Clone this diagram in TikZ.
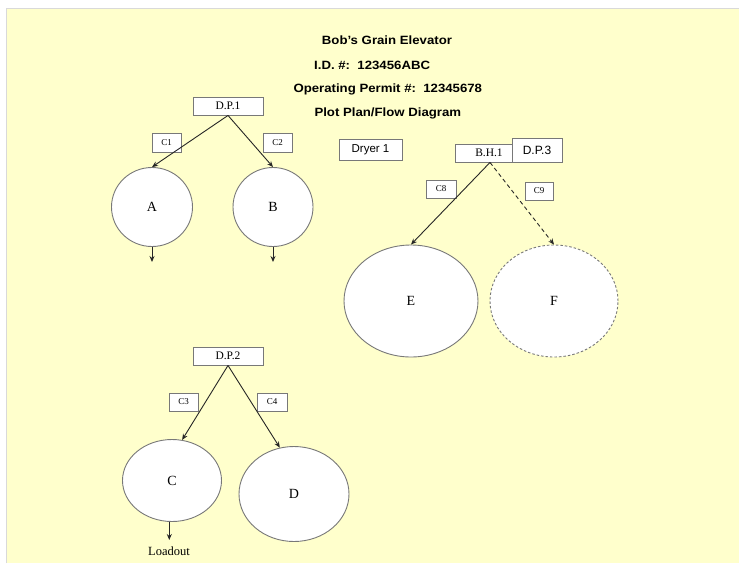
\documentclass[tikz,border=0pt]{standalone}
\usepackage{fontspec}
\setmainfont{Liberation Serif}
\newfontfamily\arialfont{Liberation Sans}
\newfontfamily\titlefont[FakeStretch=1.1]{Liberation Sans}
\usetikzlibrary{arrows.meta,shapes.geometric}
\definecolor{bgyellow}{RGB}{255,255,204}
\definecolor{edgegray}{RGB}{120,120,120}
\begin{document}
\begin{tikzpicture}[x=1pt,y=-1pt,
  title/.style={anchor=base west,inner sep=0pt,font=\titlefont\bfseries\fontsize{12}{14}\selectfont},
  tagbox/.style={draw=edgegray,fill=white,line width=0.9pt,rectangle,inner sep=0pt},
  smalltag/.style={tagbox,font=\fontsize{9}{10}\selectfont},
  dpbox/.style={tagbox,font=\fontsize{11.5}{12}\selectfont},
  sansbox/.style={tagbox,font=\arialfont\fontsize{11.5}{12}\selectfont},
  bin/.style={ellipse,draw=edgegray,fill=white,line width=0.9pt,inner sep=0pt,font=\fontsize{14}{15}\selectfont},
  flow/.style={-{Stealth[length=6pt,width=5pt]},line width=0.9pt,black!85},
]
\useasboundingbox (0,0) rectangle (739,563);
\fill[white] (0,0) rectangle (739,563);
\fill[bgyellow] (6,8) rectangle (739,563);
\draw[black!15,line width=0.8pt] (6,563) -- (6,8) -- (739,8);

% titles
\node[title] (t1) at (321.7,44.3) {Bob’s Grain Elevator};
\node[title] (t2) at (314,69.3) {I.D. \#:\ \ 123456ABC};
\node[title] (t3) at (293.3,92.5) {Operating Permit \#:\ \ 12345678};
\node[title] (t4) at (314.3,116.6) {Plot Plan/Flow Diagram};

% group 1
\node[dpbox,minimum width=70,minimum height=18] (dp1) at (228,106) {D.P.1};
\node[smalltag,minimum width=29,minimum height=19] (c1) at (166.5,142.5) {C1};
\node[smalltag,minimum width=29,minimum height=19] (c2) at (277.5,142.5) {C2};
\node[bin,minimum width=81,minimum height=79] (A) at (152,207) {A};
\node[bin,minimum width=80,minimum height=79] (B) at (273,207) {B};
\coordinate (Aout) at (152,262);
\coordinate (Bout) at (273,262);
\draw[flow] (dp1.south) -- (A.north);
\draw[flow] (dp1.south) -- (B.north);
\draw[flow] (A.south) -- (Aout);
\draw[flow] (B.south) -- (Bout);

% group 3
\node[sansbox,minimum width=63,minimum height=21] (dryer) at (370.5,149.5) {Dryer 1};
\node[dpbox,minimum width=58,minimum height=18] (bh1) at (484,153) {\hspace*{10pt}\raisebox{-1.5pt}{B.H.1}};
\node[sansbox,font=\arialfont\fontsize{12}{13}\selectfont,minimum width=50,minimum height=24] (dp3) at (537,150) {D.P.3};
\node[smalltag,minimum width=30,minimum height=18] (c8) at (441,189) {C8};
\node[smalltag,minimum width=28,minimum height=18] (c9) at (539,191) {C9};
\node[bin,minimum width=134,minimum height=112] (E) at (411,301) {E};
\node[bin,dash pattern=on 2.5pt off 2pt,minimum width=128,minimum height=112] (F) at (554,301) {F};
\coordinate (bhout) at ([xshift=6pt]bh1.south);
\draw[flow] (bhout) -- (E.north);
\draw[flow,dash pattern=on 4pt off 3pt] (bhout) -- (F.north);

% group 2
\node[dpbox,minimum width=70,minimum height=18] (dp2) at (228,356) {D.P.2};
\node[smalltag,minimum width=29,minimum height=18] (c3) at (183.5,402) {C3};
\node[smalltag,minimum width=30,minimum height=18] (c4) at (272,402) {C4};
\node[bin,minimum width=99,minimum height=82] (C) at (172,480.5) {C};
\node[bin,minimum width=110,minimum height=95] (D) at (294,494) {D};
\node[inner sep=0pt,font=\fontsize{12.5}{13}\selectfont,anchor=base] (load) at (169,555.5) {Loadout};
\coordinate (Cbot) at ([xshift=-2.7pt]C.south);
\coordinate (Cout) at (169.3,540);
\draw[flow] (dp2.south) -- (C.76);
\draw[flow] (dp2.south) -- (D.107);
\draw[flow] (Cbot) -- (Cout);
\end{tikzpicture}
\end{document}
